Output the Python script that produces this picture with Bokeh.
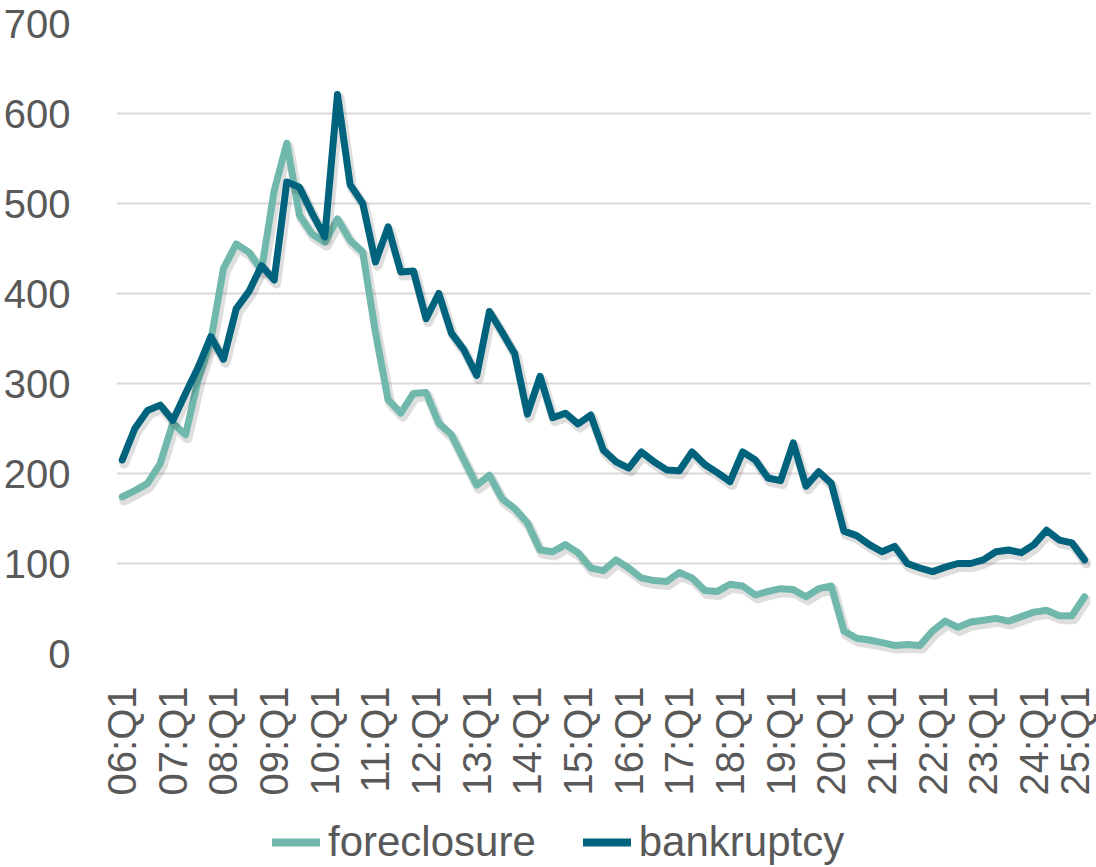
import math
from bokeh.plotting import figure
from bokeh.layouts import column
from bokeh.models import (ColumnDataSource, FixedTicker, Range1d, Legend, LegendItem)
from bokeh.embed import file_html
from bokeh.resources import INLINE

# ---- data ----
quarters = [f"{y:02d}:Q{q}" for y in range(6, 26) for q in range(1, 5)][:77]

foreclosure = [174, 181, 189, 211, 256, 243, 304, 348, 428, 455, 446, 426, 514, 567,
               487, 466, 457, 483, 459, 446, 357, 282, 267, 289, 290, 256, 243, 215,
               187, 198, 172, 161, 145, 115, 113, 121, 112, 95, 92, 104, 95, 84, 81,
               80, 90, 84, 70, 69, 77, 75, 65, 69, 72, 71, 63, 72, 75, 25, 17, 15, 12,
               9, 10, 9, 25, 36, 29, 35, 37, 39, 36, 41, 46, 48, 42, 42, 63]

bankruptcy = [215, 250, 270, 276, 259, 289, 318, 352, 327, 383, 402, 431, 415, 524,
              518, 489, 463, 621, 521, 500, 435, 474, 424, 425, 372, 400, 356, 337,
              309, 380, 357, 333, 266, 308, 262, 267, 255, 265, 226, 213, 206, 224,
              213, 204, 203, 224, 210, 201, 191, 224, 215, 195, 192, 234, 186, 202,
              189, 136, 131, 121, 113, 119, 100, 95, 91, 96, 100, 100, 104, 113, 115,
              112, 121, 137, 126, 123, 104]

series_names = ["foreclosure", "bankruptcy"]
y_ticks = [0, 100, 200, 300, 400, 500, 600, 700]

FORE_COLOR = "#70B8AC"
BANK_COLOR = "#00637E"
TEXT_COLOR = "#595959"
FONT = "Liberation Sans"

idx = list(range(len(quarters)))
source = ColumnDataSource(data=dict(x=idx, fore=foreclosure, bank=bankruptcy, q=quarters))

x_start, x_end = -0.45, len(quarters) - 1 + 0.47
y_start, y_end = 0, 700

p = figure(width=1096, height=800, output_backend="svg", toolbar_location=None,
           x_range=Range1d(x_start, x_end), y_range=Range1d(y_start, y_end),
           min_border_left=115, min_border_right=6, min_border_top=23,
           min_border_bottom=147)

# shadow ranges (shift a few pixels right/down)
dx = 2.0 / 12.675
dy = 3.5 / 0.9
p.extra_x_ranges = {"sx": Range1d(x_start - dx, x_end - dx)}
p.extra_y_ranges = {"sy": Range1d(y_start + dy, y_end + dy)}

p.outline_line_color = None
p.background_fill_color = "white"
p.border_fill_color = "white"

# lines
p.line("x", "fore", source=source, x_range_name="sx", y_range_name="sy",
       line_color="black", line_alpha=0.13, line_width=10, line_join="round", line_cap="round")
p.line("x", "fore", source=source, line_color=FORE_COLOR, line_width=7,
       line_join="round", line_cap="round")
p.line("x", "bank", source=source, x_range_name="sx", y_range_name="sy",
       line_color="black", line_alpha=0.13, line_width=10, line_join="round", line_cap="round")
p.line("x", "bank", source=source, line_color=BANK_COLOR, line_width=7,
       line_join="round", line_cap="round")

# axes
xticks = [i for i, q in enumerate(quarters) if q.endswith("Q1")]
p.xaxis.ticker = FixedTicker(ticks=xticks)
p.xaxis.major_label_overrides = {i: quarters[i] for i in xticks}
p.xaxis.major_label_orientation = math.pi / 2
p.xaxis.major_label_standoff = 27
p.yaxis.ticker = FixedTicker(ticks=y_ticks)
p.yaxis.major_label_standoff = 40

for ax in (p.xaxis, p.yaxis):
    ax.axis_line_color = None
    ax.major_tick_line_color = None
    ax.minor_tick_line_color = None
    ax.major_label_text_font = FONT
    ax.major_label_text_font_size = "40px"
    ax.major_label_text_color = TEXT_COLOR

p.xgrid.grid_line_color = None
p.ygrid.ticker = FixedTicker(ticks=y_ticks)
p.ygrid.grid_line_color = "#D9D9D9"
p.ygrid.grid_line_width = 2

# ---- legend strip below the chart (series lie outside its view; only legend shows) ----
leg = figure(width=1096, height=67, output_backend="svg", toolbar_location=None,
             x_range=Range1d(x_start, x_end), y_range=Range1d(-200, -100), min_border=0,
             x_axis_type=None, y_axis_type=None)
leg.outline_line_color = None
leg.xgrid.grid_line_color = None
leg.ygrid.grid_line_color = None
lr_fore = leg.line("x", "fore", source=source, line_color=FORE_COLOR, line_width=8,
                   line_cap="round")
lr_bank = leg.line("x", "bank", source=source, line_color=BANK_COLOR, line_width=8,
                   line_cap="round")

legend = Legend(items=[LegendItem(label=series_names[0], renderers=[lr_fore]),
                       LegendItem(label=series_names[1], renderers=[lr_bank])],
                orientation="horizontal", location=(156, 1),
                label_text_font=FONT, label_text_font_size="42px",
                label_text_color=TEXT_COLOR, glyph_width=48, glyph_height=42,
                label_height=42, label_standoff=8, spacing=47, padding=0, margin=0,
                border_line_color=None, background_fill_alpha=0)
leg.add_layout(legend, "center")

layout = column(p, leg, spacing=0)
open("out.html", "w").write(file_html(layout, INLINE))
